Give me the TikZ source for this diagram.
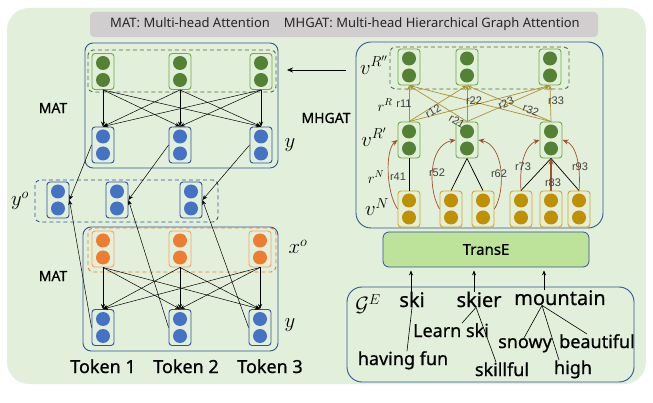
\documentclass[tikz,border=0pt]{standalone}
\usepackage{fontspec}
\setmainfont{Noto Sans}
\newfontfamily\heavy[FakeBold=0.7]{Noto Sans}
\newfontfamily\rfont{Liberation Sans}
\usetikzlibrary{arrows.meta,calc}
\definecolor{bg}{HTML}{E2EFDA}
\definecolor{gdot}{HTML}{548235}
\definecolor{gline}{HTML}{70AD47}
\definecolor{bdot}{HTML}{4472C4}
\definecolor{bline}{HTML}{2F5597}
\definecolor{odot}{HTML}{ED7D31}
\definecolor{oline}{HTML}{F4A46A}
\definecolor{ydot}{HTML}{BF9000}
\definecolor{yline}{HTML}{D4A62A}
\definecolor{goldarr}{HTML}{B09030}
\definecolor{brarr}{HTML}{A5502A}
\definecolor{legendgray}{HTML}{D0CECE}
\definecolor{transefill}{HTML}{BDE39A}
\definecolor{dashg}{HTML}{4E6B3A}
\definecolor{rgray}{HTML}{404040}
\newcommand{\vecnode}[5]{%
  \node[vbox,draw=#4] (#1) at (#2,#3) {};
  \fill[#5] ($(#1.center)+(0,-8.5)$) circle[radius=7pt] ($(#1.center)+(0,8.5)$) circle[radius=7pt];}
\begin{document}
\begin{tikzpicture}[x=1pt,y=-1pt,
  vbox/.style={rounded corners=3pt, minimum width=22pt, minimum height=36pt, inner sep=0pt, line width=0.9pt},
  bigbox/.style={draw=bline, line width=0.9pt},
  dbox/.style={dashed, dash pattern=on 4pt off 3pt, line width=0.9pt, rounded corners=5pt},
  arr/.style={-{Stealth[length=5pt,width=4pt]}, line width=0.5pt, black},
  garr/.style={-{Stealth[length=5pt,width=4pt]}, line width=0.7pt, goldarr},
  barr/.style={-{Stealth[length=6pt,width=5pt]}, line width=0.7pt, brarr},
  rlab/.style={font=\rfont\fontsize{11}{12}\selectfont, text=rgray, inner sep=0pt},
  mlab/.style={font=\fontsize{20}{22}\selectfont, inner sep=0pt},
  word/.style={font=\heavy\fontsize{20}{22}\selectfont, inner sep=0pt, anchor=base},
  sword/.style={font=\heavy\fontsize{18}{20}\selectfont, inner sep=0pt, anchor=base},
  lab/.style={font=\heavy\fontsize{14}{16}\selectfont, inner sep=0pt}]
\useasboundingbox (0,0) rectangle (653,403);
% background
\fill[bg, rounded corners=22pt] (7,8) rectangle (646,384);
% legend
\fill[legendgray, rounded corners=4pt] (90,12) rectangle (598,37);
\node[font=\fontsize{13}{15}\selectfont, inner sep=0pt, text=black!85] (legend) at (345,24.5)
  {\textbf{MAT}: Multi-head Attention\hspace{14pt}\textbf{MHGAT}: Multi-head Hierarchical Graph Attention};
% ---------- left: MAT boxes ----------
\draw[bigbox, rounded corners=8pt] (85,43) rectangle (278,168);
\draw[dbox, dashg] (88,50) rectangle (276,92);
\draw[bigbox, rounded corners=8pt] (83,227) rectangle (278,351);
\draw[dbox, odot] (88,228) rectangle (276,272);
\draw[dbox, bline] (35,180) rectangle (218,222);
\foreach \n/\x in {1/103,2/180,3/261}{
  \vecnode{gt\n}{\x}{71.5}{gline}{gdot}
  \vecnode{yu\n}{\x}{145}{bline}{bdot}}
\foreach \n/\x in {1/58,2/117,3/191}{
  \vecnode{yo\n}{\x}{200}{bline}{bdot}}
\foreach \n/\x in {1/103,2/180,3/260}{
  \vecnode{xo\n}{\x}{249}{oline}{odot}
  \vecnode{yl\n}{\x}{327.5}{bline}{bdot}}
\foreach \i in {1,2,3}{\foreach \j in {1,2,3}{
  \draw[arr] (gt\i.south) -- (yu\j.north);
  \draw[arr] (xo\i.south) -- (yl\j.north);}}
\foreach \i in {1,2,3}{
  \draw[arr] (yu\i.west) -- (yo\i.east);
  \draw[arr] (yl\i.west) -- (yo\i.east);}
\node[lab] (matA) at (53,108) {MAT};
\node[lab] (matB) at (53,276) {MAT};
\node[mlab] (ylabA) at (290,145) {$y$};
\node[mlab] (ylabB) at (290,325) {$y$};
\node[mlab] (yolab) at (20,201) {$y^{o}$};
\node[mlab] (xolab) at (298,247) {$x^{o}$};
\node[sword] (tok1) at (103,373) {Token 1};
\node[sword] (tok2) at (186,373) {Token 2};
\node[sword] (tok3) at (270,373) {Token 3};
% ---------- right: MHGAT ----------
\draw[bigbox, rounded corners=15pt] (356,42) rectangle (603,228);
\draw[dbox, dashg] (390,47) rectangle (569,89);
\node[lab] (mhgat) at (326,118) {MHGAT};
\coordinate (mhout) at (346,70);
\coordinate (matin) at (287,70);
\draw[-{Stealth[length=6pt,width=5pt]}, line width=0.6pt] (mhout) -- (matin);
\foreach \n/\x in {1/409,2/467,3/550}{
  \vecnode{rr\n}{\x}{67}{gline}{gdot}}
\foreach \n/\x in {1/409,2/467,3/551}{
  \vecnode{vr\n}{\x}{140}{gline}{gdot}}
\foreach \n/\x in {1/409,2/451,3/483,4/521,5/551,6/579}{
  \vecnode{vn\n}{\x}{209}{yline}{ydot}}
\foreach \i in {1,2,3}{\foreach \j in {1,2,3}{
  \draw[garr] (vr\i.north) -- (rr\j.south);}}
% black tree edges
\draw[line width=0.7pt] (vn1.north) -- (vr1.south);
\draw[line width=0.7pt] (vn2.north) -- (vr2.south);
\draw[line width=0.7pt] (vn3.north) -- (vr2.south);
\draw[line width=0.7pt] (vn4.north) -- (vr3.south);
\draw[line width=0.7pt] (vn6.north) -- (vr3.south);
% brown relation arrows
\draw[barr] (vn1.west) .. controls (386,192) and (385,150) .. (vr1.west);
\draw[barr] (vn2.west) .. controls (428,190) and (428,145) .. (vr2.west);
\draw[barr] (vn3.east) .. controls (506,190) and (504,145) .. (vr2.east);
\draw[barr] (vn4.north) .. controls (519,165) and (525,145) .. (vr3.west);
\draw[barr, line width=1.4pt] (vn5.north) -- (vr3.south);
\draw[barr] (vn6.north) .. controls (581,165) and (576,145) .. (vr3.east);
% labels
\node[mlab] (lvrr) at (374,65) {$v^{R''}$};
\node[mlab] (lvr) at (374,137) {$v^{R'}$};
\node[mlab] (lvn) at (377,207) {$v^{N}$};
\node[font=\fontsize{14}{16}\selectfont, inner sep=0pt] (lrR) at (385,105) {$r^{R}$};
\node[font=\fontsize{14}{16}\selectfont, inner sep=0pt] (lrN) at (376,177) {$r^{N}$};
\node[rlab] (r11) at (404,104) {r11};
\node[rlab, rotate=30] (r12) at (433,111) {r12};
\node[rlab, rotate=-30] (r21) at (457,121) {r21};
\node[rlab] (r22) at (474,101) {r22};
\node[rlab, rotate=22] (r23) at (506,103) {r23};
\node[rlab, rotate=-20] (r32) at (531,110) {r32};
\node[rlab] (r33) at (556,101) {r33};
\node[rlab] (r41) at (398,177) {r41};
\node[rlab] (r52) at (437,173) {r52};
\node[rlab] (r62) at (499,174) {r62};
\node[rlab] (r73) at (523,167) {r73};
\node[rlab] (r83) at (553,183) {r83};
\node[rlab] (r93) at (580,167) {r93};
% TransE
\node[draw=bline, fill=transefill, rounded corners=6pt, line width=0.8pt, minimum width=206pt, minimum height=35pt, inner sep=0pt, font=\heavy\fontsize{15}{17}\selectfont] (transe) at (486,249.5) {TransE};
% G^E
\draw[bigbox, rounded corners=15pt] (347,287) rectangle (634,382);
\node[mlab] (ge) at (368,304) {$\mathcal{G}^{E}$};
\node[word] (ski) at (412,307) {ski};
\node[word] (skier) at (479,307) {skier};
\node[word] (mount) at (560,305) {mountain};
\node[sword] (learn) at (451,337) {Learn ski};
\node[sword] (having) at (403,365) {having fun};
\node[sword] (skillful) at (502,376) {skillful};
\node[sword] (snowy) at (525,348) {snowy};
\node[sword] (beaut) at (597,348) {beautiful};
\node[sword] (high) at (573,374) {high};
\draw[line width=0.6pt] (ski.south) -- ([xshift=4pt]having.north);
\draw[line width=0.6pt] ([xshift=-3pt]skier.south) -- ([xshift=11pt]learn.north);
\draw[line width=0.6pt] ([xshift=-3pt]skier.south) -- ([xshift=-6pt]skillful.north);
\draw[line width=0.6pt] ([xshift=-18pt]mount.south) -- ([xshift=-1pt]snowy.north);
\draw[line width=0.6pt] ([xshift=-18pt]mount.south) -- ([xshift=-14pt]high.north);
\draw[line width=0.6pt] ([xshift=-18pt]mount.south) -- ([xshift=-10pt]beaut.north);
\draw[arr, line width=0.6pt, shorten >=3pt] ([xshift=-1pt]ski.north) -- ([xshift=-1pt]ski.north |- transe.south);
\draw[arr, line width=0.6pt, shorten >=3pt] ([xshift=-5pt]skier.north) -- ([xshift=-5pt]skier.north |- transe.south);
\draw[arr, line width=0.6pt, shorten >=3pt] ([xshift=-16pt]mount.north) -- ([xshift=-16pt]mount.north |- transe.south);
\end{tikzpicture}
\end{document}
